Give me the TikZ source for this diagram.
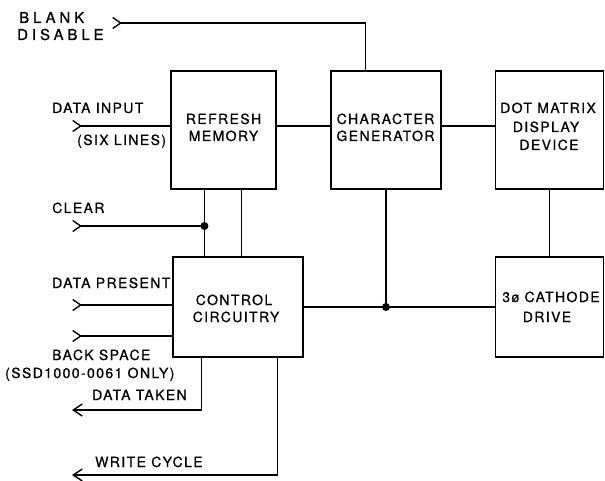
\documentclass[tikz,border=0pt]{standalone}
\usepackage{fontspec}
\setmainfont{TeX Gyre Heros}[LetterSpace=10,FakeBold=0.8]
\usetikzlibrary{arrows.meta,calc}
\begin{document}
\begin{tikzpicture}[x=1pt,y=-1pt,
  box/.style={draw,line width=1.2pt,inner sep=0pt},
  wire/.style={line width=1.6pt},
  inarr/.style={wire,arrows={{Straight Barb[reversed,length=8pt,width=11pt,line width=1.4pt]}-}},
  outarr/.style={wire,arrows={-{Straight Barb[length=9pt,width=12pt,line width=1.4pt]}}},
  lbl/.style={inner sep=0pt,anchor=base west,font=\fontsize{14}{17}\selectfont},
  biglbl/.style={lbl,font=\fontsize{15}{18}\selectfont\addfontfeature{LetterSpace=26}},
  ctr/.style={inner sep=0pt,anchor=base,font=\fontsize{14}{17}\selectfont},
  jdot/.style={circle,fill,inner sep=0pt,minimum size=8pt}]
\useasboundingbox (0,0) rectangle (605,481);
% boxes
\node[box,minimum width=105pt,minimum height=118pt] (refresh) at (223.5,130) {};
\node[box,minimum width=110pt,minimum height=118pt] (chargen) at (386,130) {};
\node[box,minimum width=108pt,minimum height=118pt] (dotm) at (549.5,130) {};
\node[box,minimum width=130pt,minimum height=100pt] (control) at (238,307) {};
\node[box,minimum width=108pt,minimum height=100pt] (cathode) at (549.5,307) {};
% box texts
\node[ctr] (t1) at (223.5,124) {REFRESH};
\node[ctr] (t2) at (223.5,141) {MEMORY};
\node[ctr] (t3) at (385.5,124) {CHARACTER};
\node[ctr] (t4) at (385.5,141) {GENERATOR};
\node[ctr] (t5) at (548,113) {DOT MATRIX};
\node[ctr] (t6) at (546,132) {DISPLAY};
\node[ctr] (t7) at (549,150) {DEVICE};
\node[ctr] (t8) at (234,305) {CONTROL};
\node[ctr] (t9) at (236,322) {CIRCUITRY};
\node[ctr] (t10) at (551,302) {3ø CATHODE};
\node[ctr] (t11) at (547,322) {DRIVE};
% signal labels
\node[biglbl] (l1) at (19,23) {BLANK};
\node[biglbl] (l2) at (17,40) {DISABLE};
\node[lbl] (l3) at (52,113) {DATA INPUT};
\node[lbl] (l4) at (77,145) {(SIX LINES)};
\node[lbl] (l5) at (52,213) {CLEAR};
\node[lbl] (l6) at (52,288) {DATA PRESENT};
\node[lbl] (l7) at (52,360) {BACK SPACE};
\node[lbl] (l8) at (5,378) {(SSD1000-0061 ONLY)};
\node[lbl] (l9) at (92,400) {DATA TAKEN};
\node[lbl] (l10) at (95,467) {WRITE CYCLE};
% free ends
\coordinate (bd) at (112,23);
\coordinate (din) at (72,126);
\coordinate (clr) at (72,226);
\coordinate (dp) at (72,305);
\coordinate (bs) at (72,336);
\coordinate (dt) at (72,410);
\coordinate (wc) at (72,475);
\coordinate (cgtop) at ($(chargen.north west)+(35,0)$);
\coordinate (v1) at ($(refresh.south west)+(34,0)$);
\coordinate (v2) at ($(refresh.south west)+(71,0)$);
\coordinate (o1) at ($(control.south west)+(29,0)$);
\coordinate (o2) at ($(control.south west)+(105,0)$);
% connectors
\draw[inarr] (bd) -| (cgtop);
\draw[inarr] (din) -- (din -| refresh.west);
\draw[wire] (refresh.east |- din) -- (chargen.west |- din);
\draw[wire] (chargen.east |- din) -- (dotm.west |- din);
\draw[wire] (v1) -- (v1 |- control.north);
\draw[wire] (v2) -- (v2 |- control.north);
\draw[inarr] (clr) -- (clr -| v1);
\node[jdot] (j1) at (clr -| v1) {};
\draw[inarr] (dp) -- (dp -| control.west);
\draw[inarr] (bs) -- (bs -| control.west);
\draw[wire] (control.east) -- (cathode.west);
\draw[wire] (chargen.south) -- (chargen.south |- control.east);
\node[jdot] (j2) at (chargen.south |- control.east) {};
\draw[wire] (dotm.south) -- (cathode.north);
\draw[outarr] (o1) |- (dt);
\draw[outarr] (o2) |- (wc);
\end{tikzpicture}
\end{document}
